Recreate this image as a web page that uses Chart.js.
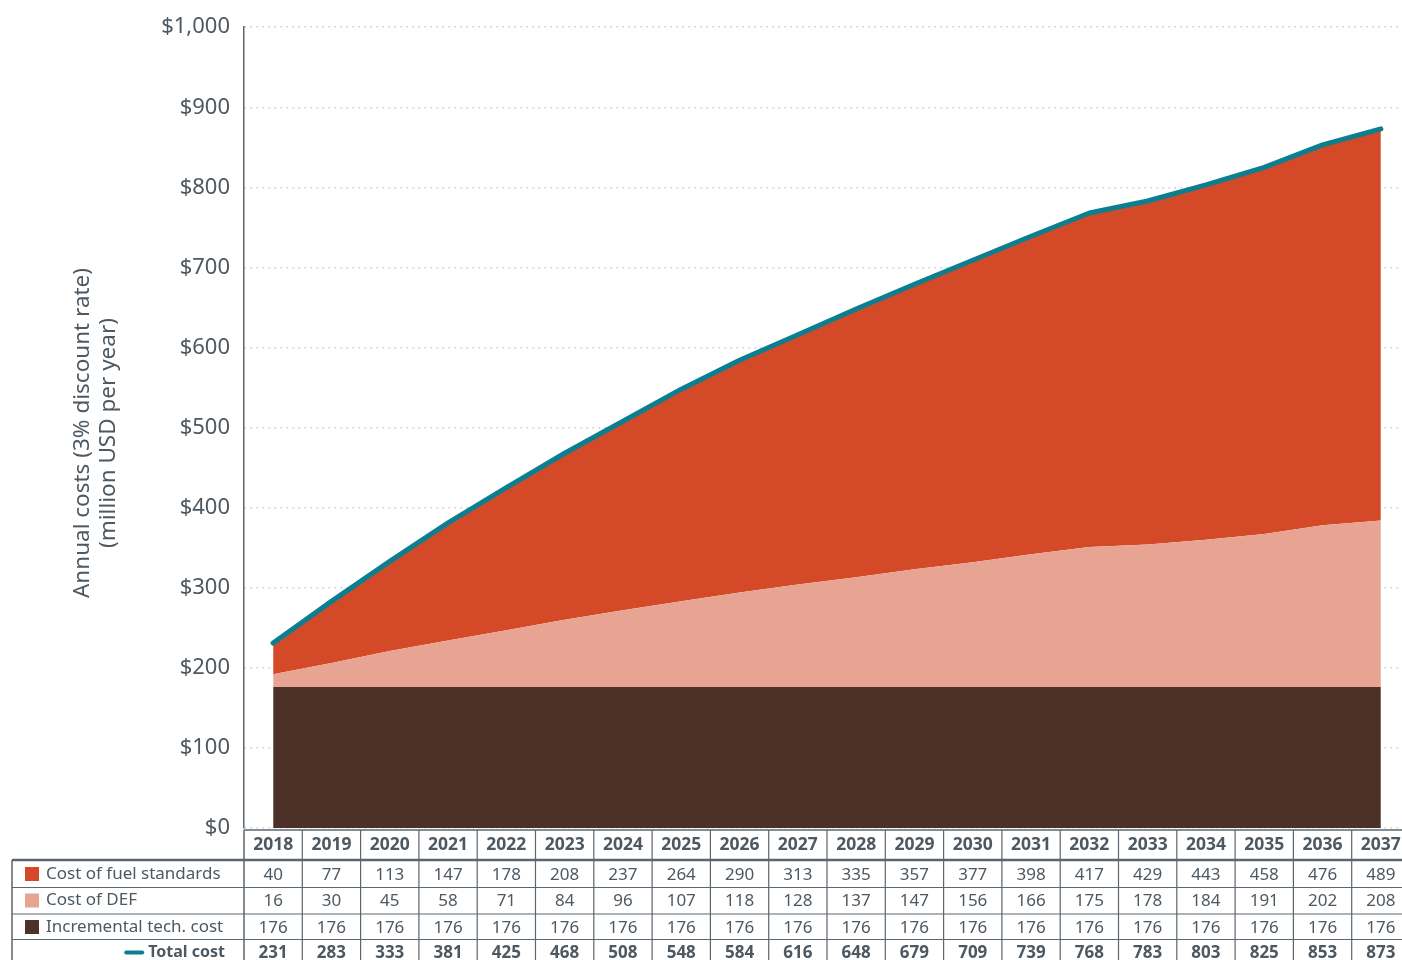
<!DOCTYPE html>
<html>
<head>
<meta charset="utf-8">
<script src="https://cdn.jsdelivr.net/npm/chart.js@4"></script>
<style>
  html, body { margin: 0; padding: 0; background: #fff; overflow: hidden; }
  #wrap { width: 1402px; height: 960px; overflow: hidden; }
</style>
</head>
<body>
<div id="wrap"><canvas id="costChart" width="1410" height="960"></canvas></div>
<script>
// Annual cost components, million USD per year
var years = ['2018', '2019', '2020', '2021', '2022', '2023', '2024', '2025', '2026', '2027',
             '2028', '2029', '2030', '2031', '2032', '2033', '2034', '2035', '2036', '2037'];
var fuelStandards = [40, 77, 113, 147, 178, 208, 237, 264, 290, 313, 335, 357, 377, 398, 417, 429, 443, 458, 476, 489];
var defCost = [16, 30, 45, 58, 71, 84, 96, 107, 118, 128, 137, 147, 156, 166, 175, 178, 184, 191, 202, 208];
var techCost = [176, 176, 176, 176, 176, 176, 176, 176, 176, 176, 176, 176, 176, 176, 176, 176, 176, 176, 176, 176];
var totalCost = [231, 283, 333, 381, 425, 468, 508, 548, 584, 616, 648, 679, 709, 739, 768, 783, 803, 825, 853, 873];
var yTicks = [0, 100, 200, 300, 400, 500, 600, 700, 800, 900, 1000];

var colors = {
    fuel: '#d44a29',
    def: '#e8a492',
    tech: '#4c3128',
    total: '#0b7f8f',
    text: '#4d5861',
    rule: '#5b666f',
    grid: '#c9cccf'
};
var FONT = '"Noto Sans", sans-serif';

// Data table under the plot, columns taken from the x scale
var tablePlugin = {
    id: 'dataTable',
    afterDraw: function (chart) {
        var ctx = chart.ctx;
        var x = chart.scales.x;
        var area = chart.chartArea;
        var W = chart.width;
        var tableLeft = 12;
        var headTop = area.bottom + 2;
        var rowTops = [860, 887.5, 914, 939.5];
        var half = (x.getPixelForValue(1) - x.getPixelForValue(0)) / 2;

        ctx.save();
        ctx.strokeStyle = colors.rule;

        // header top rule
        ctx.lineWidth = 1.5;
        ctx.beginPath();
        ctx.moveTo(area.left, headTop);
        ctx.lineTo(W, headTop);
        ctx.stroke();

        // thick rule under the years
        ctx.lineWidth = 2.5;
        ctx.beginPath();
        ctx.moveTo(tableLeft, rowTops[0]);
        ctx.lineTo(W, rowTops[0]);
        ctx.stroke();

        ctx.lineWidth = 1.2;
        rowTops.slice(1).forEach(function (y) {
            ctx.beginPath();
            ctx.moveTo(tableLeft, y);
            ctx.lineTo(W, y);
            ctx.stroke();
        });

        // left border and column separators
        ctx.lineWidth = 1.5;
        ctx.beginPath();
        ctx.moveTo(tableLeft, rowTops[0]);
        ctx.lineTo(tableLeft, 960);
        ctx.stroke();
        ctx.beginPath();
        ctx.moveTo(area.left, headTop);
        ctx.lineTo(area.left, 960);
        ctx.stroke();
        ctx.lineWidth = 1.2;
        for (var i = 0; i < years.length; i++) {
            var edge = x.getPixelForValue(i) + half;
            ctx.beginPath();
            ctx.moveTo(edge, headTop);
            ctx.lineTo(edge, 960);
            ctx.stroke();
        }

        ctx.fillStyle = colors.text;
        ctx.textAlign = 'center';
        ctx.textBaseline = 'middle';

        // year header
        ctx.font = 'bold 17.5px ' + FONT;
        years.forEach(function (yr, i) {
            ctx.fillText(yr, x.getPixelForValue(i), 845);
        });

        var rows = [
            { label: 'Cost of fuel standards', values: fuelStandards, swatch: colors.fuel },
            { label: 'Cost of DEF', values: defCost, swatch: colors.def },
            { label: 'Incremental tech. cost', values: techCost, swatch: colors.tech },
            { label: 'Total cost', values: totalCost, line: colors.total, bold: true }
        ];
        var rowMid = [874, 900.5, 927, 952.5];

        rows.forEach(function (row, r) {
            var cy = rowMid[r];
            ctx.font = (row.bold ? 'bold ' : '') + '17px ' + FONT;
            ctx.textAlign = 'center';
            ctx.fillStyle = colors.text;
            row.values.forEach(function (v, i) {
                ctx.fillText(String(v), x.getPixelForValue(i), cy + 1);
            });

            if (row.swatch) {
                ctx.fillStyle = row.swatch;
                ctx.fillRect(25, cy - 7, 14, 14);
                ctx.fillStyle = colors.text;
                ctx.textAlign = 'left';
                ctx.fillText(row.label, 46, cy);
            } else {
                ctx.font = 'bold 16px ' + FONT;
                var start = 225 - ctx.measureText(row.label).width;
                ctx.strokeStyle = row.line;
                ctx.lineWidth = 4;
                ctx.lineCap = 'round';
                ctx.beginPath();
                ctx.moveTo(start - 22, cy);
                ctx.lineTo(start - 6, cy);
                ctx.stroke();
                ctx.fillStyle = colors.text;
                ctx.textAlign = 'right';
                ctx.fillText(row.label, 225, cy);
            }
        });

        // rotated y-axis title
        ctx.save();
        ctx.translate(96, 433);
        ctx.rotate(-Math.PI / 2);
        ctx.font = '22.5px ' + FONT;
        ctx.fillStyle = colors.text;
        ctx.textAlign = 'center';
        ctx.fillText('Annual costs (3% discount rate)', 0, -13);
        ctx.fillText('(million USD per year)', 0, 13);
        ctx.restore();

        ctx.restore();
    }
};

new Chart(document.getElementById('costChart'), {
    type: 'line',
    data: {
        labels: years,
        datasets: [{
            label: 'Incremental tech. cost',
            data: techCost,
            stack: 'costs',
            backgroundColor: colors.tech,
            borderWidth: 0,
            pointRadius: 0,
            fill: 'origin'
        }, {
            label: 'Cost of DEF',
            data: defCost,
            stack: 'costs',
            backgroundColor: colors.def,
            borderWidth: 0,
            pointRadius: 0,
            fill: '-1'
        }, {
            label: 'Cost of fuel standards',
            data: fuelStandards,
            stack: 'costs',
            backgroundColor: colors.fuel,
            borderWidth: 0,
            pointRadius: 0,
            fill: '-1'
        }, {
            label: 'Total cost',
            data: totalCost,
            stack: 'total',
            order: -1,
            borderColor: colors.total,
            borderWidth: 5,
            borderCapStyle: 'round',
            borderJoinStyle: 'round',
            pointRadius: 0,
            fill: false
        }]
    },
    options: {
        responsive: false,
        devicePixelRatio: 1,
        animation: false,
        layout: { padding: { top: 26, right: 0, bottom: 132, left: 0 } },
        plugins: {
            legend: { display: false },
            tooltip: { enabled: false }
        },
        scales: {
            x: {
                display: false,
                offset: true
            },
            y: {
                stacked: true,
                min: 0,
                max: 1000,
                afterFit: function (scale) { scale.width = 244; },
                afterBuildTicks: function (scale) {
                    scale.ticks = yTicks.map(function (v) { return { value: v }; });
                },
                ticks: {
                    padding: 14,
                    color: colors.text,
                    font: { family: FONT, size: 22 },
                    callback: function (value) {
                        return '$' + value.toLocaleString('en-US');
                    }
                },
                grid: {
                    color: colors.grid,
                    lineWidth: 1.5,
                    drawTicks: false
                },
                border: {
                    display: true,
                    color: colors.rule,
                    width: 1.5,
                    dash: [1.5, 4.5]
                }
            }
        }
    },
    plugins: [tablePlugin]
});
</script>
</body>
</html>
